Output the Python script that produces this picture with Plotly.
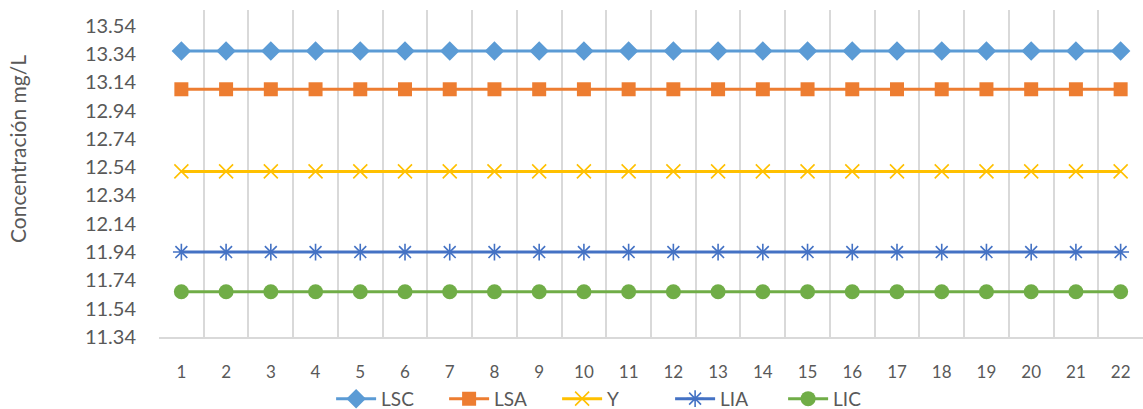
import plotly.graph_objects as go

muestras = list(range(1, 23))
lsc = [13.36] * 22
lsa = [13.09] * 22
media = [12.51] * 22
lia = [11.94] * 22
lic = [11.66] * 22
y_ticks = [11.34, 11.54, 11.74, 11.94, 12.14, 12.34, 12.54, 12.74, 12.94, 13.14, 13.34, 13.54]

series = [
    ("LSC", lsc, "#5B9BD5", "diamond", 15, 0),
    ("LSA", lsa, "#ED7D31", "square", 14, 0),
    ("Y", media, "#FFC000", "x-thin-open", 14, 1.6),
    ("LIA", lia, "#4472C4", "asterisk-open", 14, 1.6),
    ("LIC", lic, "#70AD47", "circle", 15, 0),
]

fig = go.Figure()
for name, vals, color, symbol, size, mlw in series:
    fig.add_trace(go.Scatter(
        x=muestras, y=vals, name=name, mode="lines+markers",
        line=dict(color=color, width=3),
        marker=dict(symbol=symbol, size=size, color=color,
                    line=dict(color=color, width=mlw)),
    ))

fig.update_layout(
    width=1143, height=409,
    margin=dict(l=159, r=0, t=10, b=72, autoexpand=False),
    paper_bgcolor="white", plot_bgcolor="white",
    font=dict(family="Lato, Open Sans, sans-serif", color="#595959"),
    showlegend=True,
    legend=dict(orientation="h", x=0.462, xanchor="center",
                yref="container", y=0.025, yanchor="middle",
                font=dict(size=19, color="#595959"),
                itemwidth=40, entrywidth=58, tracegroupgap=0),
    annotations=[dict(
        text="Concentración mg/L", textangle=-90, showarrow=False,
        xref="paper", x=0, xanchor="center", xshift=-141,
        yref="paper", y=0.575, yanchor="middle",
        font=dict(size=21, color="#595959"),
    )],
)
fig.update_xaxes(
    range=[0.5, 22.5], tickvals=muestras, ticktext=[str(m) for m in muestras],
    showgrid=False, zeroline=False,
    showline=True, linecolor="#D9D9D9", linewidth=1.5,
    tickfont=dict(size=17, color="#595959"), ticks="", ticklabelstandoff=19,
    minor=dict(tick0=0.5, dtick=1, showgrid=True, gridcolor="#D9D9D9", gridwidth=1.5),
)
fig.update_yaxes(
    range=[11.34, 13.65], tickvals=y_ticks, ticktext=[f"{v:.2f}" for v in y_ticks],
    showgrid=False, zeroline=False, showline=False,
    tickfont=dict(size=20, color="#595959"), ticklabelstandoff=22,
)

fig.write_html("out.html")
